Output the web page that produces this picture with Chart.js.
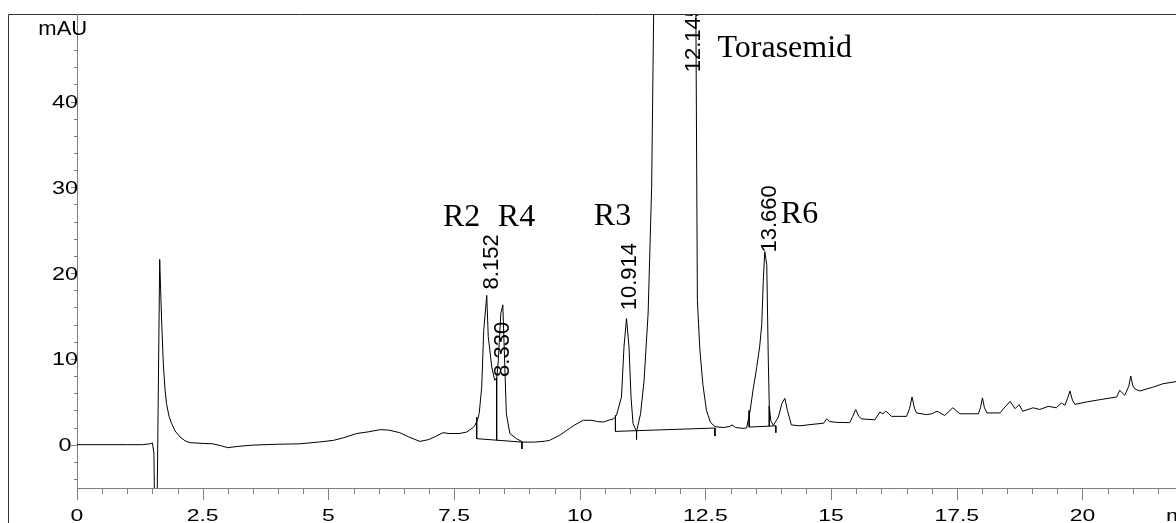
<!DOCTYPE html>
<html>
<head>
<meta charset="utf-8">
<script src="https://cdn.jsdelivr.net/npm/chart.js@4/dist/chart.umd.min.js"></script>
<style>
  body { margin: 0; background: #fff; }
  canvas { display: block; }
</style>
</head>
<body>
<canvas id="chromatogram" width="1176" height="523"></canvas>
<script>
// Retention time (min) and absorbance (mAU)
const time = [0, 0.5, 1.0, 1.3, 1.45, 1.5, 1.53, 1.57, 1.645, 1.68, 1.716, 1.75, 1.78, 1.83, 1.88, 1.95, 2.05, 2.15, 2.25, 2.5, 2.7, 2.85, 3.0, 3.2, 3.5, 4.0, 4.43, 4.8, 5.1, 5.3, 5.56, 5.8, 6.03, 6.2, 6.42, 6.6, 6.82, 7.0, 7.15, 7.28, 7.4, 7.6, 7.75, 7.88, 7.92, 7.97, 8.0, 8.05, 8.09, 8.15, 8.18, 8.25, 8.31, 8.35, 8.38, 8.43, 8.47, 8.51, 8.54, 8.61, 8.74, 8.87, 9.1, 9.3, 9.4, 9.6, 9.74, 9.9, 10.07, 10.24, 10.35, 10.47, 10.6, 10.67, 10.73, 10.83, 10.88, 10.93, 10.98, 11.02, 11.06, 11.13, 11.21, 11.28, 11.36, 11.43, 11.47, 12.145, 12.31, 12.34, 12.39, 12.45, 12.52, 12.6, 12.69, 12.85, 12.97, 13.03, 13.1, 13.25, 13.32, 13.39, 13.45, 13.52, 13.58, 13.62, 13.65, 13.68, 13.72, 13.75, 13.77, 13.8, 13.85, 13.95, 14.02, 14.08, 14.13, 14.21, 14.38, 14.6, 14.85, 14.91, 14.97, 15.1, 15.37, 15.43, 15.49, 15.55, 15.61, 15.87, 15.97, 16.03, 16.09, 16.2, 16.5, 16.56, 16.61, 16.66, 16.7, 16.9, 17.0, 17.11, 17.26, 17.42, 17.56, 17.93, 17.97, 18.01, 18.05, 18.1, 18.36, 18.46, 18.56, 18.66, 18.74, 18.81, 19.02, 19.15, 19.32, 19.48, 19.58, 19.65, 19.71, 19.75, 19.8, 19.85, 20.1, 20.35, 20.68, 20.74, 20.84, 20.92, 20.96, 21.0, 21.04, 21.14, 21.4, 21.6, 21.86];
const signal = [0, 0, 0, 0, 0.1, 0.2, -1, -20, 21.6, 15, 9.5, 6.5, 4.8, 3.3, 2.5, 1.6, 0.9, 0.45, 0.23, 0.15, 0.1, -0.1, -0.35, -0.2, -0.05, 0.05, 0.1, 0.3, 0.5, 0.8, 1.3, 1.5, 1.75, 1.7, 1.4, 0.9, 0.38, 0.6, 1.0, 1.4, 1.3, 1.3, 1.47, 2.0, 2.3, 3.0, 3.65, 6.7, 13.3, 17.4, 12.6, 9.05, 7.5, 7.8, 9.8, 15.3, 16.3, 9.05, 3.6, 1.3, 0.7, 0.3, 0.3, 0.4, 0.5, 1.1, 1.67, 2.3, 2.84, 2.84, 2.7, 2.64, 2.9, 3.0, 3.4, 5.55, 11.4, 14.7, 11.4, 5.55, 2.45, 1.55, 3.6, 7.5, 15.3, 30, 50.2, 800, 50.2, 16.8, 11, 7, 4, 2.6, 2.1, 2.0, 2.1, 2.3, 2.0, 1.9, 1.95, 4, 6.5, 9, 11.5, 14, 19, 22.5, 21, 10, 4.5, 2.8, 2.25, 3.2, 4.8, 5.4, 4, 2.3, 2.2, 2.35, 2.5, 3.0, 2.7, 2.6, 2.57, 3.3, 4.1, 3.3, 3.0, 2.9, 3.8, 3.6, 3.9, 3.3, 3.3, 4.2, 5.56, 4.2, 3.7, 3.5, 3.6, 3.9, 3.4, 4.3, 3.6, 3.6, 4.3, 5.45, 4.3, 3.7, 3.7, 4.4, 5.05, 4.2, 4.67, 3.9, 4.3, 4.1, 4.47, 4.3, 4.86, 4.6, 5.5, 6.26, 5.2, 4.7, 5.0, 5.25, 5.56, 6.34, 5.76, 6.8, 8.0, 6.9, 6.5, 6.26, 6.7, 7.1, 7.35];

// Integration marks: baselines, drop lines and ticks (null = break)
const markTime = [7.95, 7.95, 8.85, null, 8.347, 8.347, null, 8.85, 8.85, null,
                  10.71, 10.71, 12.69, null, 11.13, 11.13, null, 12.69, 12.69, null,
                  13.37, 13.37, 13.9, null, 13.77, 13.77, null, 13.9, 13.9];
const markSignal = [3.2, 0.7, 0.3, null, 7.8, 0.52, null, 0.3, -0.5, null,
                    3.4, 1.55, 1.94, null, 1.63, 0.6, null, 1.94, 1.0, null,
                    4.0, 2.05, 2.2, null, 4.5, 2.15, null, 2.2, 1.4];

// Retention time labels (rotated) and where they sit
const peakLabels = ['8.152', '8.330', '10.914', '12.145', '13.660'];
const peakLabelTime = [8.254, 8.47, 11.0, 12.28, 13.79];
const peakLabelSignal = [18.1, 7.9, 15.67, 43.4, 22.4];

// Compound names
const compoundNames = ['R2', 'R4', 'R3', 'Torasemid', 'R6'];
const compoundTime = [7.28, 8.37, 10.28, 12.74, 14.0];
const compoundSignal = [25.5, 25.5, 25.6, 45.2, 25.8];

const xTickLabels = ['0', '2.5', '5', '7.5', '10', '12.5', '15', '17.5', '20'];
const yTickLabels = ['0', '10', '20', '30', '40'];

const xMin = 0, xMax = 21.86;
const yMin = -5.05, yMax = 50.2;

const AXIS_GRAY = '#7f7f7f';
const SANS = '"Liberation Sans", Arial, sans-serif';
const SERIF = '"Liberation Serif", "Times New Roman", serif';

function stretchedText(ctx, text, x, y, scaleX) {
    ctx.save();
    ctx.translate(x, y);
    ctx.scale(scaleX, 1);
    ctx.fillText(text, 0, 0);
    ctx.restore();
}

const axesPlugin = {
    id: 'hplcAxes',
    beforeDatasetsDraw(chart) {
        const ctx = chart.ctx;
        const area = chart.chartArea;
        const xs = chart.scales.x;
        const ys = chart.scales.y;
        ctx.save();

        // outer frame (left and top)
        ctx.strokeStyle = '#333';
        ctx.lineWidth = 1;
        ctx.beginPath();
        ctx.moveTo(8.5, chart.height);
        ctx.lineTo(8.5, area.top + 0.5);
        ctx.lineTo(chart.width, area.top + 0.5);
        ctx.stroke();

        // axis lines
        ctx.strokeStyle = AXIS_GRAY;
        ctx.beginPath();
        ctx.moveTo(area.left + 0.5, area.top);
        ctx.lineTo(area.left + 0.5, area.bottom + 0.5);
        ctx.lineTo(area.right, area.bottom + 0.5);
        ctx.stroke();

        // x ticks every 0.5 min, longer every 2.5
        ctx.beginPath();
        for (let i = 0; i * 0.5 <= xMax; i++) {
            const px = Math.round(xs.getPixelForValue(i * 0.5)) + 0.5;
            const len = (i % 5 === 0) ? 12 : 6;
            ctx.moveTo(px, area.bottom);
            ctx.lineTo(px, area.bottom + len);
        }
        // y ticks every 2 mAU
        for (let v = -4; v <= 48; v += 2) {
            const py = Math.round(ys.getPixelForValue(v)) + 0.5;
            const len = (v % 10 === 0) ? 6 : 3;
            ctx.moveTo(area.left, py);
            ctx.lineTo(area.left - len, py);
        }
        ctx.stroke();

        // tick labels
        ctx.fillStyle = '#000';
        ctx.textBaseline = 'alphabetic';
        ctx.font = '17px ' + SANS;
        xTickLabels.forEach(lbl => {
            const px = xs.getPixelForValue(parseFloat(lbl));
            const w = ctx.measureText(lbl).width * 1.35;
            stretchedText(ctx, lbl, px - w / 2, area.bottom + 33, 1.35);
        });
        stretchedText(ctx, 'min', 1166, area.bottom + 33, 1.35);

        ctx.font = '18px ' + SANS;
        yTickLabels.forEach(lbl => {
            const py = ys.getPixelForValue(parseFloat(lbl));
            const w = ctx.measureText(lbl).width * 1.3;
            stretchedText(ctx, lbl, 65 - w / 2, py + 6.5, 1.3);
        });

        ctx.font = '20px ' + SANS;
        const wm = ctx.measureText('mAU').width * 1.1;
        stretchedText(ctx, 'mAU', 62.8 - wm / 2, 35, 1.1);
        ctx.restore();
    },
    afterDatasetsDraw(chart) {
        const ctx = chart.ctx;
        const area = chart.chartArea;
        const xs = chart.scales.x;
        const ys = chart.scales.y;
        ctx.save();
        ctx.beginPath();
        ctx.rect(area.left, area.top + 1, chart.width - area.left, area.bottom - area.top);
        ctx.clip();
        ctx.fillStyle = '#000';

        // rotated retention times
        ctx.font = '22px ' + SANS;
        ctx.textBaseline = 'middle';
        ctx.textAlign = 'left';
        peakLabels.forEach((lbl, i) => {
            ctx.save();
            ctx.translate(xs.getPixelForValue(peakLabelTime[i]), ys.getPixelForValue(peakLabelSignal[i]));
            ctx.rotate(-Math.PI / 2);
            ctx.fillText(lbl, 0, 0);
            ctx.restore();
        });

        // compound names
        ctx.font = '32px ' + SERIF;
        ctx.textBaseline = 'alphabetic';
        compoundNames.forEach((name, i) => {
            ctx.fillText(name, xs.getPixelForValue(compoundTime[i]), ys.getPixelForValue(compoundSignal[i]));
        });
        ctx.restore();
    }
};

new Chart(document.getElementById('chromatogram'), {
    type: 'line',
    data: {
        datasets: [{
            label: 'Signal',
            data: time.map((t, i) => ({ x: t, y: signal[i] })),
            borderColor: '#000',
            borderWidth: 1,
            pointRadius: 0,
            tension: 0
        }, {
            label: 'Integration',
            data: markTime.map((t, i) => ({ x: t, y: markSignal[i] })),
            borderColor: '#000',
            borderWidth: 1,
            pointRadius: 0,
            spanGaps: false,
            tension: 0
        }]
    },
    options: {
        responsive: false,
        animation: false,
        events: [],
        layout: { padding: { left: 77, top: 14, right: 0, bottom: 35 } },
        plugins: {
            legend: { display: false },
            tooltip: { enabled: false }
        },
        scales: {
            x: { type: 'linear', min: xMin, max: xMax, display: false },
            y: { type: 'linear', min: yMin, max: yMax, display: false }
        }
    },
    plugins: [axesPlugin]
});
</script>
</body>
</html>
